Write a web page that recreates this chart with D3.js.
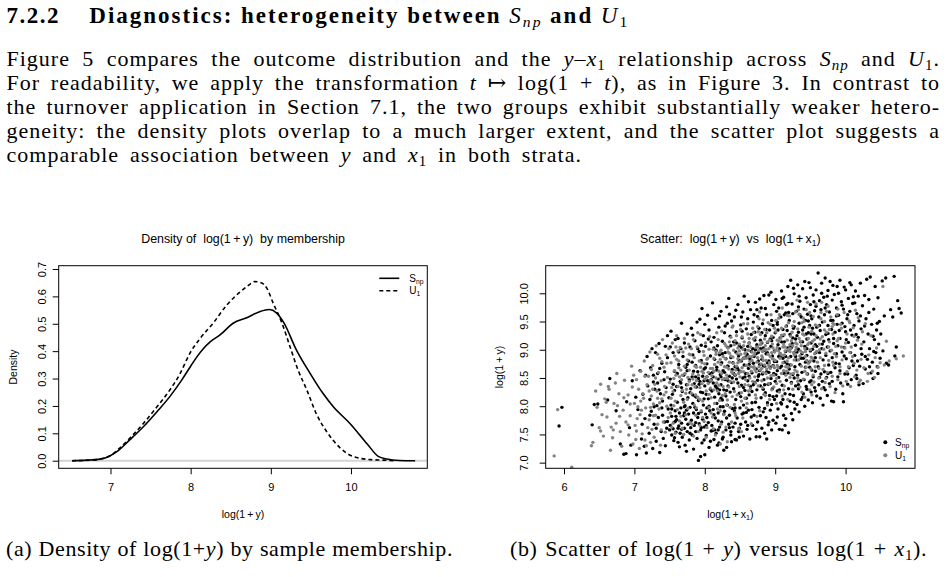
<!DOCTYPE html>
<html>
<head>
<meta charset="utf-8">
<script src="https://d3js.org/d3.v7.min.js"></script>
<style>
  body { margin: 0; background: #fff; }
  svg { display: block; }
  .tex { font-family: "Liberation Serif", "DejaVu Serif", serif; fill: #000; }
  .rr { font-family: "Liberation Sans", Arial, Helvetica, sans-serif; fill: #000; }
</style>
</head>
<body>
<script>
// ---- data ----

// tick labels
var densTicksX = [7, 8, 9, 10];
var densTicksY = [0, 0.1, 0.2, 0.3, 0.4, 0.5, 0.6, 0.7];
var scatTicksX = [6, 7, 8, 9, 10];
var scatTicksY = [7, 7.5, 8, 8.5, 9, 9.5, 10];

// kernel density of log(1+y), S_np (solid)
var snpDensX = [6.52, 6.70, 6.85, 6.95, 7.08, 7.24, 7.41, 7.58, 7.74, 7.89, 8.00, 8.08, 8.16, 8.24, 8.37, 8.53,
                8.70, 8.86, 8.98, 9.07, 9.16, 9.32, 9.49, 9.65, 9.78, 9.99, 10.20, 10.34, 10.45, 10.60, 10.80];
var snpDensY = [0.000, 0.002, 0.005, 0.012, 0.033, 0.076, 0.124, 0.179, 0.234, 0.295, 0.345, 0.380, 0.410, 0.433, 0.460, 0.502,
                0.522, 0.544, 0.552, 0.540, 0.505, 0.404, 0.319, 0.246, 0.197, 0.135, 0.062, 0.016, 0.006, 0.001, 0.000];

// kernel density of log(1+y), U_1 (dashed)
var u1DensX = [6.52, 6.75, 6.90, 6.99, 7.10, 7.24, 7.41, 7.58, 7.74, 7.87, 7.99, 8.12, 8.28, 8.45, 8.62, 8.72,
               8.80, 8.88, 8.95, 9.03, 9.14, 9.24, 9.34, 9.45, 9.57, 9.70, 9.86, 10.03, 10.24, 10.40, 10.55];
var u1DensY = [0.000, 0.002, 0.008, 0.017, 0.042, 0.082, 0.136, 0.197, 0.258, 0.319, 0.392, 0.447, 0.502, 0.568, 0.617, 0.640,
               0.654, 0.650, 0.630, 0.575, 0.502, 0.416, 0.331, 0.258, 0.170, 0.105, 0.048, 0.015, 0.004, 0.002, 0.000];

// scatter, S_np: x, y pairs (log(1+x1), log(1+y))
var snpPts = [
5.93,7.65, 5.97,7.98, 6.40,7.67, 6.43,8.03, 6.48,8.04, 6.65,8.49, 6.80,7.33, 6.85,7.15, 6.88,7.16, 6.74,7.92, 6.62,8.11, 6.89,8.08,
6.93,7.62, 6.97,8.45, 7.03,7.14, 7.05,7.94, 7.08,8.63, 7.10,7.42, 7.12,8.21, 7.15,7.78, 7.17,7.17, 7.18,8.88, 7.19,8.36, 7.11,7.68, 7.02,8.16, 6.95,7.31, 7.16,8.55, 7.14,7.29,
7.21,7.52, 7.22,8.12, 7.23,8.68, 7.24,7.91, 7.25,9.02, 7.26,7.25, 7.27,8.43, 7.28,7.68, 7.29,8.30, 7.30,8.95, 7.31,7.38, 7.32,8.01, 7.33,8.58, 7.34,7.80, 7.35,9.11, 7.36,7.18,
7.37,8.22, 7.38,7.55, 7.39,8.76, 7.40,8.09, 7.41,7.43, 7.42,8.47, 7.43,7.72, 7.44,9.06, 7.45,8.33, 7.46,7.61, 7.47,8.86, 7.48,7.95, 7.49,8.15, 7.44,7.30, 7.36,8.67, 7.28,7.99,
7.47,9.25, 7.40,7.84, 7.33,8.41,
7.50,7.58, 7.51,7.66, 7.51,8.48, 7.52,9.33, 7.53,7.49, 7.53,7.82, 7.54,8.21, 7.55,7.60, 7.55,8.95, 7.56,7.71, 7.57,7.44, 7.57,8.62, 7.58,7.92, 7.58,9.18, 7.59,7.54, 7.60,8.35,
7.60,7.76, 7.61,8.07, 7.62,7.36, 7.62,9.20, 7.63,7.65, 7.63,8.74, 7.64,7.88, 7.65,8.44, 7.65,7.52, 7.66,9.02, 7.66,7.97, 7.67,9.47, 7.67,7.70, 7.68,8.26, 7.68,7.45, 7.69,8.88,
7.70,7.83, 7.70,8.55, 7.71,7.61, 7.71,9.12, 7.72,8.01, 7.72,7.31, 7.73,8.69, 7.73,7.77, 7.74,8.38, 7.74,7.93, 7.75,7.55, 7.75,9.28, 7.76,8.15, 7.76,7.68, 7.77,8.80, 7.77,7.86,
7.78,7.40, 7.78,8.47, 7.79,7.98, 7.79,9.05, 7.52,8.02, 7.56,7.39, 7.61,8.58, 7.64,7.28, 7.69,8.12, 7.74,7.20, 7.58,7.73, 7.67,7.59,
7.80,7.62, 7.80,8.31, 7.81,7.75, 7.81,9.38, 7.82,8.52, 7.82,7.49, 7.83,8.05, 7.83,8.91, 7.84,7.88, 7.84,7.24, 7.85,8.40, 7.85,7.66, 7.86,9.16, 7.86,8.18, 7.87,7.55, 7.87,8.72,
7.88,7.94, 7.88,8.34, 7.89,7.43, 7.89,9.49, 7.90,8.61, 7.90,7.80, 7.91,7.04, 7.91,8.10, 7.92,8.97, 7.92,7.69, 7.93,9.54, 7.93,8.44, 7.94,7.58, 7.94,8.25, 7.95,7.90, 7.95,8.81,
7.96,9.73, 7.96,7.35, 7.97,8.53, 7.97,7.77, 7.98,8.02, 7.98,9.25, 7.99,8.66, 7.99,7.63, 8.00,7.14, 8.00,8.36, 8.01,7.86, 8.01,9.06, 8.02,8.21, 8.02,7.48, 8.03,8.75, 8.03,7.97,
8.04,9.61, 8.04,8.45, 8.05,7.71, 8.05,8.13, 8.06,9.35, 8.06,7.27, 8.07,8.58, 8.07,7.92, 8.08,8.30, 8.08,8.89, 8.09,7.56, 8.09,9.14, 7.84,8.62, 7.88,8.16, 7.92,8.39, 7.97,8.24,
8.03,8.52, 7.86,7.98, 7.94,7.11, 8.00,9.45, 7.82,8.78, 7.90,9.02, 8.06,8.00, 7.99,7.40,
8.10,8.27, 8.10,7.66, 8.11,9.83, 8.11,8.60, 8.12,7.94, 8.12,8.41, 8.13,9.22, 8.13,7.41, 8.14,8.16, 8.14,8.83, 8.15,7.79, 8.15,9.55, 8.16,8.34, 8.16,7.52, 8.17,8.69, 8.17,8.05,
8.18,9.07, 8.18,7.31, 8.19,8.48, 8.19,7.88, 8.20,9.40, 8.20,8.22, 8.21,8.91, 8.21,7.63, 8.22,8.56, 8.22,7.99, 8.23,9.68, 8.23,8.38, 8.24,7.72, 8.24,8.77, 8.25,8.11, 8.25,9.15,
8.26,7.45, 8.26,8.63, 8.27,8.29, 8.27,7.22, 8.28,9.30, 8.28,7.91, 8.29,8.47, 8.29,8.95, 8.30,7.58, 8.30,8.18, 8.31,9.76, 8.31,7.27, 8.32,8.71, 8.32,8.02, 8.33,9.04, 8.33,8.36,
8.34,9.91, 8.34,7.68, 8.35,8.53, 8.35,7.84, 8.36,9.24, 8.36,8.25, 8.37,8.86, 8.37,7.49, 8.38,8.42, 8.38,9.51, 8.39,7.96, 8.39,8.65, 8.12,8.52, 8.18,8.31, 8.23,8.14, 8.28,8.60,
8.33,8.45, 8.14,7.58, 8.21,9.60, 8.26,7.99, 8.35,9.63, 8.20,7.35, 8.30,8.84, 8.16,8.99, 8.38,7.37,
8.40,8.77, 8.40,7.63, 8.41,9.14, 8.41,8.31, 8.42,7.92, 8.42,9.58, 8.43,8.55, 8.43,7.41, 8.44,8.96, 8.44,8.12, 8.45,7.40, 8.45,9.32, 8.46,8.68, 8.46,7.79, 8.47,8.41, 8.47,9.80,
8.48,8.89, 8.48,7.55, 8.49,8.23, 8.49,9.07, 8.50,7.97, 8.50,8.62, 8.51,9.44, 8.51,7.68, 8.52,8.80, 8.52,8.37, 8.53,9.21, 8.53,7.86, 8.54,8.50, 8.54,9.67, 8.55,8.02, 8.55,7.47,
8.56,9.95, 8.56,8.73, 8.57,8.28, 8.57,9.00, 8.58,7.72, 8.58,8.58, 8.59,9.37, 8.59,8.14, 8.60,7.59, 8.60,8.92, 8.61,8.45, 8.61,9.55, 8.62,7.93, 8.62,8.67, 8.63,9.12, 8.63,8.20,
8.64,7.42, 8.64,8.84, 8.65,9.71, 8.65,8.35, 8.66,7.81, 8.66,9.27, 8.67,8.59, 8.67,8.06, 8.68,9.02, 8.68,7.66, 8.69,8.76, 8.69,9.49, 8.45,8.48, 8.52,9.04, 8.58,8.87, 8.63,8.53,
8.43,8.70, 8.55,8.33, 8.66,8.97, 8.49,7.61,
8.70,8.88, 8.70,7.84, 8.71,9.31, 8.71,8.42, 8.72,9.84, 8.72,8.07, 8.73,8.66, 8.73,7.46, 8.74,9.09, 8.74,8.29, 8.75,9.59, 8.75,7.72, 8.76,8.95, 8.76,8.53, 8.77,9.38, 8.77,7.98,
8.78,8.74, 8.78,7.46, 8.79,9.17, 8.79,8.36, 8.80,9.74, 8.80,8.15, 8.81,8.83, 8.81,7.61, 8.82,9.46, 8.82,8.57, 8.83,9.03, 8.83,7.90, 8.84,8.47, 8.84,9.96, 8.85,8.71, 8.85,7.52,
8.86,9.25, 8.86,8.24, 8.87,8.93, 8.87,7.80, 8.88,9.62, 8.88,8.61, 8.89,8.06, 8.89,9.13, 8.90,8.39, 8.90,7.67, 8.91,9.97, 8.91,8.80, 8.92,9.35, 8.92,8.19, 8.93,8.69, 8.93,7.93,
8.94,9.06, 8.94,8.49, 8.95,9.52, 8.95,7.58, 8.96,8.89, 8.96,8.31, 8.97,9.22, 8.97,7.75, 8.98,9.80, 8.98,8.58, 8.99,8.98, 8.99,8.12, 8.72,9.00, 8.76,8.80, 8.81,9.12, 8.85,8.99,
8.89,8.77, 8.93,9.19, 8.78,8.63, 8.97,8.72, 8.74,9.71, 8.83,8.30, 8.88,7.42, 8.95,8.03,
9.00,9.30, 9.00,8.44, 9.01,7.70, 9.01,9.89, 9.02,8.79, 9.02,8.18, 9.03,9.49, 9.03,8.63, 9.04,7.95, 9.04,9.09, 9.05,8.51, 9.05,9.74, 9.06,8.29, 9.06,7.59, 9.07,9.21, 9.07,8.93,
9.08,8.06, 9.08,9.58, 9.09,8.71, 9.09,10.04, 9.10,7.58, 9.10,8.37, 9.11,9.36, 9.11,8.85, 9.12,7.84, 9.12,9.93, 9.13,8.58, 9.13,9.14, 9.14,8.22, 9.14,7.66, 9.15,9.65, 9.15,8.97,
9.16,8.46, 9.16,9.42, 9.17,7.99, 9.17,8.75, 9.18,10.12, 9.18,9.03, 9.19,8.31, 9.19,7.53, 9.20,9.52, 9.20,8.66, 9.21,8.09, 9.21,9.27, 9.22,10.23, 9.22,8.88, 9.23,7.87, 9.23,8.42,
9.24,9.81, 9.24,9.11, 9.25,8.56, 9.25,7.76, 9.26,9.38, 9.26,8.19, 9.27,8.95, 9.27,9.99, 9.28,8.70, 9.28,7.95, 9.29,9.19, 9.29,8.36, 9.04,9.35, 9.08,8.87, 9.13,9.62, 9.18,8.59,
9.22,9.07, 9.27,8.50, 9.06,9.02, 9.11,8.12, 9.16,9.80, 9.20,8.99, 9.25,9.64, 9.03,8.27,
9.30,8.82, 9.30,9.68, 9.31,8.03, 9.31,9.25, 9.32,8.55, 9.32,10.15, 9.33,9.01, 9.33,8.31, 9.34,9.47, 9.34,7.90, 9.35,8.74, 9.35,9.86, 9.36,8.45, 9.36,9.14, 9.37,8.12, 9.37,9.58,
9.38,8.93, 9.38,8.60, 9.39,9.35, 9.39,10.08, 9.40,8.22, 9.40,8.85, 9.41,9.72, 9.41,8.47, 9.42,9.06, 9.42,8.00, 9.43,9.52, 9.43,8.69, 9.44,9.92, 9.44,8.35, 9.45,9.19, 9.45,8.90,
9.46,8.57, 9.46,9.63, 9.47,8.11, 9.47,9.30, 9.48,8.78, 9.48,10.19, 9.49,9.43, 9.49,8.43, 9.50,8.98, 9.50,9.80, 9.51,8.25, 9.51,9.12, 9.52,8.64, 9.52,9.55, 9.53,8.06, 9.53,9.01,
9.54,9.97, 9.54,8.52, 9.55,9.28, 9.55,8.80, 9.56,9.69, 9.56,8.33, 9.57,9.09, 9.57,8.62, 9.58,10.06, 9.58,8.95, 9.59,9.40, 9.59,8.18, 9.33,9.76, 9.44,9.28, 9.51,9.60,
9.60,9.22, 9.61,10.36, 9.61,8.70, 9.62,9.58, 9.62,8.38, 9.63,9.87, 9.63,8.95, 9.64,8.14, 9.64,9.34, 9.65,8.57, 9.65,9.71, 9.66,10.18, 9.66,9.02, 9.67,8.44, 9.67,9.49, 9.68,8.82,
9.68,8.02, 9.69,9.93, 9.69,9.15, 9.70,8.61, 9.70,9.62, 9.71,8.29, 9.71,10.27, 9.72,9.27, 9.72,8.90, 9.73,9.80, 9.73,8.51, 9.74,9.05, 9.74,8.19, 9.75,9.43, 9.75,10.05, 9.76,8.73,
9.76,9.18, 9.77,8.40, 9.77,9.67, 9.78,8.98, 9.78,10.21, 9.79,8.60, 9.80,9.36, 9.80,8.09, 9.81,9.88, 9.81,8.86, 9.82,9.52, 9.83,8.08, 9.83,9.11, 9.84,9.98, 9.85,8.68, 9.85,9.31,
9.86,8.30, 9.87,9.74, 9.87,8.93, 9.88,10.12, 9.88,9.45, 9.89,8.52, 9.89,9.07,
9.90,9.61, 9.91,8.75, 9.92,10.23, 9.92,9.20, 9.93,8.41, 9.94,9.85, 9.95,8.96, 9.95,9.47, 9.96,8.22, 9.97,8.08, 9.97,9.72, 9.98,9.04, 9.99,8.57, 10.00,10.06, 10.00,9.32, 10.01,8.84,
10.02,9.55, 10.03,8.39, 10.04,9.91, 10.04,9.13, 10.05,8.68, 10.06,9.68, 10.07,8.95, 10.08,10.15, 10.08,8.47, 10.09,9.26, 10.10,9.82, 10.11,8.72, 10.12,9.43, 10.13,8.90, 10.14,10.04,
10.14,9.08, 10.15,8.55, 10.16,9.64, 10.17,8.80, 10.18,9.95, 10.18,9.22, 10.19,8.38, 10.19,9.51, 10.01,9.18,
10.20,8.71, 10.21,10.18, 10.22,9.37, 10.23,8.92, 10.24,9.78, 10.25,8.40, 10.26,9.14, 10.27,9.96, 10.28,8.66, 10.29,9.55, 10.30,10.25, 10.31,8.83, 10.32,9.28, 10.33,9.89, 10.34,9.02,
10.35,10.29, 10.36,8.59, 10.37,9.45, 10.38,8.78, 10.39,8.49, 10.40,9.72, 10.41,9.18, 10.42,10.12, 10.43,8.95, 10.44,9.35, 10.45,8.70, 10.46,9.92, 10.47,9.10, 10.48,9.50, 10.49,8.85,
10.50,9.28, 10.52,10.22, 10.53,8.98, 10.55,9.60, 10.57,10.27, 10.58,8.76, 10.61,8.73, 10.64,9.71, 10.67,9.58, 10.69,10.30, 10.70,8.89, 10.72,9.05, 10.74,9.87, 10.76,9.73, 10.79,9.65,
7.53,7.95, 7.57,8.28, 7.62,7.61, 7.66,8.41, 7.71,7.88, 7.75,8.63, 7.79,7.52, 7.83,8.20, 7.87,7.71, 7.91,8.49, 7.95,7.62, 7.99,8.13, 8.03,7.80, 8.07,8.44, 8.11,7.57, 8.15,8.36,
8.19,7.74, 8.23,8.52, 8.27,7.86, 8.31,8.28, 8.35,7.62, 8.39,8.50, 8.43,7.97, 8.47,8.65, 8.51,8.17, 8.55,8.85, 8.59,7.89, 8.63,8.74, 8.67,8.26, 8.71,9.17, 8.75,8.46, 8.79,9.02,
8.83,8.72, 8.87,9.36, 8.91,8.60, 8.95,9.16, 8.99,8.79, 9.03,9.45, 9.07,8.68, 9.11,9.25, 9.15,8.88, 9.19,9.66, 9.23,9.04, 9.27,9.41, 9.31,8.96, 9.35,9.62, 9.39,9.14, 9.43,8.78,
9.47,9.51, 9.51,9.28, 9.55,9.85, 9.59,9.06, 9.63,9.43, 9.67,9.10, 9.71,9.74, 9.75,9.29, 9.79,9.52, 9.83,9.20, 9.87,9.60, 9.91,9.34, 9.95,9.79, 9.99,9.41, 10.03,9.62, 10.07,9.35,
10.11,9.94, 10.15,9.27, 10.21,9.60, 10.27,9.42, 10.33,9.66, 10.39,9.24, 10.45,9.47,
8.02,7.66, 8.08,7.38, 8.13,7.85, 8.19,7.58, 8.25,7.42, 8.31,7.79, 8.37,7.55, 8.43,7.70, 8.49,7.45, 8.55,7.88, 8.61,7.66, 8.67,7.94, 8.73,7.59, 8.79,7.83, 8.85,7.96, 8.91,7.72,
8.97,8.17, 9.03,7.81, 9.09,8.04, 9.15,7.78, 9.21,8.21, 9.27,8.07, 9.33,8.38, 9.39,8.16, 9.45,8.30, 9.51,8.45, 9.57,8.27, 9.63,8.51, 9.69,8.33, 9.75,8.58,
8.01,8.68, 8.05,9.19, 8.09,8.47, 8.13,9.03, 8.17,8.64, 8.21,8.29, 8.25,8.93, 8.29,9.42, 8.33,8.71, 8.37,9.07, 8.41,8.58, 8.45,9.12, 8.49,8.81, 8.53,9.33, 8.57,8.52, 8.61,9.06,
8.65,8.81, 8.69,8.38, 8.73,8.93, 8.77,8.56, 8.81,9.30, 8.85,8.38, 8.89,8.95, 8.93,8.40, 8.97,9.43, 9.01,8.56, 9.05,8.88, 9.09,9.14, 9.13,8.78, 9.17,9.34, 9.21,8.73, 9.25,9.21,
9.29,8.88, 9.33,9.31, 9.37,8.85, 9.41,9.40, 9.45,9.02, 9.49,8.69, 9.53,9.38, 9.57,8.86,
7.22,7.84, 7.27,8.55, 7.31,7.61, 7.35,8.29, 7.39,7.97, 7.43,8.61, 7.47,7.73, 7.51,9.05, 7.55,8.39, 7.59,7.82, 7.63,8.96, 7.67,8.33, 7.71,7.99, 7.75,8.74, 7.79,8.24, 7.83,9.26,
7.87,8.52, 7.91,7.87, 7.95,9.08, 7.99,8.45,
8.32,9.47, 8.44,9.70, 8.52,9.58, 8.62,9.85, 8.70,9.62, 8.78,9.90, 8.86,9.73, 8.94,10.02, 9.02,9.68, 9.10,9.91, 9.18,9.82, 9.26,10.09, 9.34,9.95, 9.42,10.21, 9.50,10.10, 9.58,9.77,
9.66,10.00, 9.74,9.95, 9.82,10.14, 9.90,10.00, 9.98,10.11, 10.06,10.19, 10.13,9.83,
9.81,8.44, 9.86,8.76, 9.92,8.63, 9.98,8.89, 10.03,8.57, 10.09,8.80, 10.16,8.49, 10.22,9.02, 10.28,8.88, 10.34,8.70, 10.40,8.97, 10.46,8.58
];

// scatter, U_1: x, y pairs
var u1Pts = [
5.86,7.12, 5.91,7.94, 6.11,6.92,
6.39,7.30, 6.41,7.36, 6.45,8.27, 6.47,7.98, 6.50,7.62, 6.52,8.39, 6.52,7.56, 6.56,7.47, 6.58,8.13, 6.61,7.81, 6.64,8.30, 6.66,7.22, 6.69,7.44, 6.71,8.05, 6.74,7.70, 6.75,8.58,
6.78,8.22, 6.80,7.55, 6.82,7.29, 6.84,7.93, 6.86,8.46, 6.88,7.72, 6.63,8.35, 6.70,7.58,
6.91,8.20, 6.92,7.49, 6.94,7.83, 6.96,8.71, 6.98,7.33, 7.00,8.05, 7.01,7.66, 7.03,8.47, 7.04,7.78, 7.06,8.30, 7.07,7.25, 7.09,8.62, 7.10,7.93, 7.11,7.51, 7.13,8.14, 7.14,8.80,
7.15,7.40, 7.16,7.97, 7.18,8.38, 7.19,7.62, 6.99,8.55, 7.05,7.99, 7.12,8.22, 7.17,7.30, 7.02,7.41,
7.20,8.53, 7.21,7.76, 7.22,8.96, 7.23,7.36, 7.24,8.18, 7.25,7.59, 7.26,8.72, 7.27,8.04, 7.28,7.45, 7.29,8.39, 7.30,7.84, 7.31,9.07, 7.32,8.27, 7.33,7.68, 7.34,8.60, 7.35,7.95,
7.36,8.85, 7.37,7.31, 7.38,8.45, 7.39,8.13, 7.40,9.18, 7.41,7.72, 7.42,8.69, 7.43,8.35, 7.44,7.54, 7.45,8.91, 7.46,8.00, 7.47,8.51, 7.48,7.80, 7.49,9.02, 7.26,8.30, 7.33,8.92,
7.38,7.58, 7.42,8.20, 7.46,8.76, 7.30,8.50, 7.23,7.98, 7.36,8.06,
7.50,8.42, 7.51,7.88, 7.52,8.77, 7.53,7.63, 7.54,9.12, 7.55,8.26, 7.56,8.01, 7.57,8.89, 7.58,7.52, 7.59,8.55, 7.60,9.25, 7.61,7.94, 7.62,8.35, 7.63,8.68, 7.64,7.74, 7.65,9.04,
7.66,8.19, 7.67,8.47, 7.68,7.61, 7.69,8.96, 7.70,8.07, 7.71,9.20, 7.72,8.58, 7.73,7.85, 7.74,8.30, 7.75,8.82, 7.76,7.96, 7.77,9.10, 7.78,8.44, 7.79,7.71, 7.52,8.14, 7.57,8.63,
7.62,8.98, 7.66,7.82, 7.71,8.71, 7.75,8.12, 7.55,7.70, 7.60,8.83, 7.68,8.28, 7.73,9.03, 7.78,8.64, 7.64,8.52, 7.70,7.50, 7.59,9.05, 7.76,8.38,
7.80,8.91, 7.81,8.23, 7.82,7.68, 7.83,8.57, 7.84,9.18, 7.85,8.02, 7.86,8.71, 7.87,7.84, 7.88,8.45, 7.89,9.05, 7.90,8.16, 7.91,7.55, 7.92,8.80, 7.93,8.33, 7.94,9.27, 7.95,7.92,
7.96,8.62, 7.97,8.09, 7.98,8.97, 7.99,7.73, 8.00,8.48, 8.01,9.12, 8.02,8.27, 8.03,7.62, 8.04,8.85, 8.05,8.40, 8.06,7.98, 8.07,9.23, 8.08,8.67, 8.09,8.15, 7.82,8.38, 7.85,8.86,
7.88,7.97, 7.91,8.55, 7.94,8.69, 7.97,7.80, 8.00,8.75, 8.03,8.52, 8.06,9.01, 8.09,7.88, 7.84,7.47, 7.90,9.30, 7.96,8.40, 8.02,7.45, 8.05,8.60, 7.87,8.20, 7.93,7.66, 7.99,8.90,
8.08,8.32, 7.81,9.02,
8.10,8.54, 8.11,7.81, 8.12,9.01, 8.13,8.29, 8.14,8.74, 8.15,7.49, 8.16,8.92, 8.17,8.41, 8.18,7.95, 8.19,9.18, 8.20,8.62, 8.21,8.10, 8.22,8.83, 8.23,7.68, 8.24,9.33, 8.25,8.47,
8.26,8.88, 8.27,7.85, 8.28,8.70, 8.29,8.22, 8.30,9.07, 8.31,8.55, 8.32,7.37, 8.33,8.96, 8.34,8.34, 8.35,8.78, 8.36,7.98, 8.37,9.22, 8.38,8.61, 8.39,8.17, 8.11,8.67, 8.14,8.05,
8.17,9.30, 8.20,8.37, 8.23,8.99, 8.26,7.54, 8.29,8.84, 8.32,8.49, 8.35,9.14, 8.38,7.72, 8.12,7.60, 8.16,8.50, 8.19,8.78, 8.22,7.33, 8.25,8.19, 8.28,9.11, 8.31,8.02, 8.34,8.66,
8.37,8.89, 8.39,9.40, 8.13,8.85, 8.24,8.58, 8.30,7.63, 8.36,8.44, 8.21,8.95,
8.40,8.87, 8.41,8.43, 8.42,9.09, 8.43,7.88, 8.44,8.64, 8.45,9.25, 8.46,8.20, 8.47,8.77, 8.48,7.60, 8.49,8.98, 8.50,8.52, 8.51,9.36, 8.52,8.09, 8.53,8.83, 8.54,7.79, 8.55,8.61,
8.56,9.14, 8.57,8.38, 8.58,8.95, 8.59,7.97, 8.60,8.72, 8.61,9.28, 8.62,8.27, 8.63,8.88, 8.64,8.50, 8.65,9.05, 8.66,7.69, 8.67,8.81, 8.68,8.44, 8.69,9.19, 8.41,8.99, 8.43,8.56,
8.45,8.71, 8.47,9.03, 8.49,8.35, 8.51,8.92, 8.53,8.68, 8.55,9.46, 8.57,8.14, 8.59,8.85, 8.61,8.58, 8.63,9.11, 8.65,8.31, 8.67,8.96, 8.69,8.69, 8.42,8.26, 8.46,8.93, 8.50,8.79,
8.54,9.01, 8.58,8.47, 8.62,8.99, 8.66,8.62, 8.44,7.83, 8.52,7.55, 8.60,8.05, 8.68,9.38, 8.48,8.58, 8.56,8.86, 8.64,8.79, 8.40,9.42,
8.70,8.91, 8.71,8.52, 8.72,9.22, 8.73,8.14, 8.74,8.78, 8.75,9.41, 8.76,8.36, 8.77,8.99, 8.78,7.92, 8.79,8.64, 8.80,9.13, 8.81,8.45, 8.82,8.86, 8.83,9.53, 8.84,8.21, 8.85,8.73,
8.86,9.07, 8.87,8.58, 8.88,9.30, 8.89,8.02, 8.90,8.92, 8.91,8.40, 8.92,9.17, 8.93,8.67, 8.94,9.62, 8.95,8.29, 8.96,8.84, 8.97,9.03, 8.98,8.55, 8.99,9.38, 8.71,8.95, 8.73,8.61,
8.75,9.05, 8.77,8.70, 8.79,9.27, 8.81,8.89, 8.83,8.60, 8.85,9.19, 8.87,8.81, 8.89,8.50, 8.91,9.02, 8.93,8.88, 8.95,9.24, 8.97,8.71, 8.99,8.96, 8.72,8.41, 8.76,9.32, 8.80,8.75,
8.84,9.00, 8.88,8.66, 8.92,8.77, 8.96,9.10, 8.74,7.82, 8.86,8.19, 8.98,8.34, 8.78,9.67, 8.90,9.48, 8.82,8.97, 8.94,8.54, 8.70,8.70,
9.00,8.81, 9.01,9.32, 9.02,8.49, 9.03,9.04, 9.04,8.68, 9.05,9.56, 9.06,8.25, 9.07,8.93, 9.08,9.21, 9.09,8.58, 9.10,9.74, 9.11,8.77, 9.12,9.10, 9.13,8.36, 9.14,8.98, 9.15,9.41,
9.16,8.62, 9.17,9.17, 9.18,8.12, 9.19,8.86, 9.20,9.60, 9.21,8.51, 9.22,9.02, 9.23,8.73, 9.24,9.31, 9.25,8.30, 9.26,8.95, 9.27,9.50, 9.28,8.64, 9.29,9.12, 9.01,8.99, 9.03,8.72,
9.05,9.15, 9.07,8.44, 9.09,9.38, 9.11,8.90, 9.13,9.27, 9.15,8.55, 9.17,8.80, 9.19,9.48, 9.21,8.97, 9.23,8.40, 9.25,9.07, 9.27,8.82, 9.29,9.67, 9.02,8.05, 9.06,9.62, 9.10,8.18,
9.14,9.05, 9.18,8.69, 9.22,9.24, 9.26,8.58, 9.12,8.63, 9.20,9.01, 9.28,8.92,
9.30,9.04, 9.31,8.61, 9.32,9.37, 9.33,8.82, 9.34,9.63, 9.35,8.34, 9.36,9.15, 9.37,8.71, 9.38,9.48, 9.39,8.95, 9.40,8.48, 9.41,9.26, 9.42,8.16, 9.43,8.88, 9.44,9.71, 9.45,8.57,
9.46,9.09, 9.47,8.76, 9.48,9.40, 9.49,8.29, 9.50,9.00, 9.51,8.66, 9.52,9.33, 9.53,8.85, 9.54,9.59, 9.55,8.43, 9.56,9.18, 9.57,8.70, 9.58,9.81, 9.59,8.97, 9.32,8.50, 9.36,8.98,
9.40,9.56, 9.44,8.69, 9.48,9.12, 9.52,8.38, 9.56,8.93, 9.34,9.20, 9.42,9.02, 9.50,8.80, 9.58,9.25, 9.38,8.25, 9.46,9.84, 9.54,8.55, 9.31,9.88,
9.60,8.78, 9.61,9.42, 9.62,8.50, 9.63,9.10, 9.64,8.86, 9.65,9.66, 9.66,8.31, 9.67,9.23, 9.68,8.65, 9.69,9.01, 9.70,9.50, 9.71,8.42, 9.72,8.94, 9.73,9.31, 9.74,8.60, 9.75,9.77,
9.76,8.81, 9.77,9.14, 9.78,8.35, 9.79,9.58, 9.80,8.99, 9.81,8.53, 9.82,9.28, 9.83,8.72, 9.84,9.45, 9.85,8.24, 9.86,9.06, 9.87,8.88, 9.88,9.62, 9.89,8.47, 9.63,9.00, 9.70,8.72,
9.77,9.36, 9.84,8.93, 9.66,9.84,
9.90,9.20, 9.92,8.58, 9.93,9.45, 9.95,8.82, 9.96,8.36, 9.98,9.66, 9.99,9.03, 10.01,8.44, 10.02,9.28, 10.04,8.70, 10.05,9.51, 10.07,8.35, 10.08,9.05, 10.10,8.88, 10.11,9.39,
10.13,8.52, 10.14,9.70, 10.16,8.64, 10.17,9.17, 10.19,8.42, 9.94,9.05, 10.06,8.95,
10.21,8.46, 10.23,9.10, 10.26,8.68, 10.28,9.46, 10.31,8.44, 10.33,8.91, 10.36,9.25, 10.38,8.62, 10.41,8.51, 10.44,9.03, 10.46,8.69, 10.49,8.77,
10.53,10.12, 10.55,8.73, 10.58,9.15, 10.62,8.80, 10.72,8.84, 10.82,8.89,
8.31,8.69, 8.35,8.94, 8.39,8.59, 8.43,9.16, 8.47,8.84, 8.51,8.61, 8.55,9.07, 8.59,8.72, 8.63,9.20, 8.67,8.88, 8.71,8.65, 8.75,8.86, 8.79,9.09, 8.83,8.81, 8.87,9.00, 8.91,8.72,
8.95,8.95, 8.99,8.68, 9.03,9.17, 9.07,8.85, 9.11,9.05, 9.15,8.70, 9.19,9.01, 9.23,9.16, 9.27,8.91, 9.31,9.10, 9.35,8.89, 9.39,9.28, 9.43,8.97, 9.47,9.20, 9.51,8.87, 9.55,9.06,
8.33,9.03, 8.41,8.76, 8.49,9.10, 8.57,8.93, 8.65,8.70, 8.73,9.04, 8.81,8.67, 8.89,9.14, 8.97,8.84, 9.05,8.98, 9.13,8.91, 9.21,9.09, 9.29,8.99, 9.37,9.07, 9.45,8.81, 9.53,9.15,
7.53,8.33, 7.58,8.09, 7.63,8.80, 7.68,8.55, 7.73,8.23, 7.78,8.92, 7.83,8.48, 7.88,8.69, 7.93,8.12, 7.98,8.59, 8.03,8.83, 8.08,8.46, 8.13,8.62, 8.18,8.27, 8.23,8.74, 8.28,8.49,
7.56,8.49, 7.66,8.64, 7.76,8.51, 7.86,8.34, 7.96,8.77, 8.06,8.21, 8.16,8.97, 8.26,8.35,
6.54,7.85, 6.60,8.07, 6.67,7.63, 6.73,8.41, 6.79,7.82, 6.85,8.15, 6.91,7.67, 6.97,8.34, 7.03,7.56, 7.09,8.09, 7.15,8.53, 7.21,8.27, 7.27,7.83, 7.33,8.14, 7.39,8.79, 7.45,8.25,
6.76,8.01, 6.94,8.04, 7.08,7.85, 7.24,8.65,
8.53,9.23, 8.61,9.46, 8.69,9.30, 8.77,9.55, 8.85,9.36, 8.93,9.45, 9.01,9.52, 9.09,9.26, 9.17,9.61, 9.25,9.42, 9.33,9.71, 9.41,9.50, 9.49,9.66, 9.57,9.44, 9.65,9.55, 9.73,9.68,
9.81,9.41, 9.89,9.72,
8.22,7.92, 8.32,8.11, 8.42,8.03, 8.52,8.24, 8.62,8.37, 8.72,8.20, 8.82,8.33, 8.92,8.12, 9.02,8.40, 9.12,8.29, 9.22,8.57, 9.32,8.44, 9.42,8.62, 9.52,8.20, 9.62,8.67, 9.72,8.49,
9.82,8.78, 9.92,8.70, 10.02,8.61, 10.12,8.76, 10.22,8.83, 10.32,8.58, 10.42,8.86,
9.64,9.19, 9.70,9.35, 9.76,9.05, 9.82,9.47, 9.88,9.16, 9.94,9.38, 10.00,9.12, 10.06,9.48, 10.12,9.24, 10.18,9.57, 10.24,9.32
];

// ---- page ----
var W = 947, H = 577;
var svg = d3.select("body").append("svg")
    .attr("width", W)
    .attr("height", H);

// writes a line of text made of [string, flags] pieces
// flags: "i" italic, "b" bold, "s" subscript
function richText(parent, x, y, segs, size, cls) {
  var t = parent.append("text")
      .attr("class", cls)
      .attr("x", x)
      .attr("y", y)
      .style("font-size", size + "px")
      .style("white-space", "pre");
  var shift = 0;
  segs.forEach(function(s) {
    var f = s[1] || "";
    var sp = t.append("tspan").text(s[0]);
    var want = f.indexOf("s") >= 0 ? size * 0.2 : 0;
    if (want !== shift) { sp.attr("dy", want - shift); shift = want; }
    if (f.indexOf("s") >= 0) sp.style("font-size", (size * 0.68) + "px");
    if (f.indexOf("i") >= 0) sp.style("font-style", "italic");
    if (f.indexOf("b") >= 0) sp.style("font-weight", "bold");
  });
  return t;
}

// stretch the word gaps so the line ends at the given width
function justify(t, width) {
  var natural = t.node().getComputedTextLength();
  var spaces = (t.text().match(/ /g) || []).length;
  if (spaces > 0) t.style("word-spacing", ((width - natural) / spaces) + "px");
}

var bodySize = 22, spacing = "1px", left = 6.5, right = 940;
var doc = svg.append("g");

// heading
richText(doc, left, 22.7, [["7.2.2", "b"]], 23, "tex").style("letter-spacing", "1.5px");
var head = richText(doc, 89.3, 22.7, [
  ["Diagnostics: heterogeneity between ", "b"], ["S", "i"], ["np", "is"], [" and ", "b"], ["U", "i"], ["1", "s"]
], 23, "tex").style("letter-spacing", "2px");
justify(head, 540);

// paragraph, one entry per printed line
var paraLines = [
  [["Figure 5 compares the outcome distribution and the "], ["y", "i"], ["\u2013"], ["x", "i"], ["1", "s"],
   [" relationship across "], ["S", "i"], ["np", "is"], [" and "], ["U", "i"], ["1", "s"], ["."]],
  [["For readability, we apply the transformation "], ["t", "i"], [" \u21A6 log(1 + "], ["t", "i"],
   ["), as in Figure 3. In contrast to"]],
  [["the turnover application in Section 7.1, the two groups exhibit substantially weaker hetero-"]],
  [["geneity: the density plots overlap to a much larger extent, and the scatter plot suggests a"]],
  [["comparable association between "], ["y", "i"], [" and "], ["x", "i"], ["1", "s"], [" in both strata."]]
];
var paraEnds = [right, right, right, right, 582];
paraLines.forEach(function(segs, i) {
  var t = richText(doc, left, 65.7 + i * 24, segs, bodySize, "tex")
      .style("letter-spacing", spacing);
  justify(t, paraEnds[i] - left);
});

// captions
var capA = richText(doc, 6, 556, [["(a) Density of log(1+"], ["y", "i"], [") by sample membership."]], bodySize, "tex")
    .style("letter-spacing", "0.6px");
justify(capA, 447);
var capB = richText(doc, 510, 556, [["(b) Scatter of log(1 + "], ["y", "i"], [") versus log(1 + "], ["x", "i"], ["1", "s"], [")."]], bodySize, "tex")
    .style("letter-spacing", "0.6px");
justify(capB, 417);

// ---- the two R panels ----
var densPanel = {
  left: 58.7, right: 427.3, top: 265.7, bottom: 468.3,
  xDom: [6.354, 10.952], yDom: [-0.0277, 0.712],
  xt: densTicksX, yt: densTicksY, xf: d3.format("d"), yf: d3.format(".1f"),
  yLab: -13.05
};
var scatPanel = {
  left: 545.7, right: 915, top: 265.7, bottom: 468.3,
  xDom: [5.74, 10.986], yDom: [6.90, 10.489],
  xt: scatTicksX, yt: scatTicksY, xf: d3.format("d"), yf: d3.format(".1f"),
  yLab: -17.5
};

[densPanel, scatPanel].forEach(function(p) {
  p.x = d3.scaleLinear().domain(p.xDom).range([p.left, p.right]);
  p.y = d3.scaleLinear().domain(p.yDom).range([p.bottom, p.top]);
  p.cx = (p.left + p.right) / 2;
  p.cy = (p.top + p.bottom) / 2;
});

function drawFrame(p) {
  var g = svg.append("g");
  var ax = g.append("g")
      .attr("transform", "translate(0," + p.bottom + ")")
      .call(d3.axisBottom(p.x).tickValues(p.xt).tickFormat(p.xf).tickSize(6).tickPadding(9.3));
  var ay = g.append("g")
      .attr("transform", "translate(" + p.left + ",0)")
      .call(d3.axisLeft(p.y).tickValues(p.yt).tickFormat(p.yf).tickSize(6));
  [ax, ay].forEach(function(a) {
    a.select(".domain").remove();
    a.attr("font-family", null).attr("font-size", null);
    a.selectAll("line").attr("stroke", "#000");
    a.selectAll("text").attr("class", "rr").style("font-size", "11px");
  });
  // R draws y labels parallel to the axis
  ay.selectAll("text")
      .attr("x", 0).attr("dy", null)
      .attr("text-anchor", "middle")
      .attr("transform", "translate(" + p.yLab + ",0) rotate(-90)");
  g.append("rect")
      .attr("x", p.left).attr("y", p.top)
      .attr("width", p.right - p.left).attr("height", p.bottom - p.top)
      .attr("fill", "none").attr("stroke", "#000").attr("stroke-width", 1);
  return g;
}

function axisTitle(parent, x, y, segs, rotate, size) {
  var t = richText(parent, 0, 0, segs, size || 10.5, "rr")
      .attr("text-anchor", "middle")
      .attr("transform", "translate(" + x + "," + y + ")" + (rotate ? " rotate(-90)" : ""));
  return t;
}

var TS = "\u2009";   // plotmath style spacing round the plus sign

// density panel
var dp = densPanel;
var dg = svg.append("g");
dg.append("line")
    .attr("x1", dp.left).attr("x2", dp.right)
    .attr("y1", dp.y(0)).attr("y2", dp.y(0))
    .attr("stroke", "#d3d3d3").attr("stroke-width", 2);

var densLine = d3.line()
    .x(function(d) { return dp.x(d[0]); })
    .y(function(d) { return dp.y(d[1]); })
    .curve(d3.curveMonotoneX);

dg.append("path")
    .datum(d3.zip(snpDensX, snpDensY))
    .attr("d", densLine)
    .attr("fill", "none").attr("stroke", "#000").attr("stroke-width", 1.6);
dg.append("path")
    .datum(d3.zip(u1DensX, u1DensY))
    .attr("d", densLine)
    .attr("fill", "none").attr("stroke", "#000").attr("stroke-width", 1.6)
    .attr("stroke-dasharray", "4,3");

drawFrame(dp);
axisTitle(dg, dp.cx, 243.4, [["Density of  log(1" + TS + "+" + TS + "y)  by membership"]], false, 12.4);
axisTitle(dg, dp.cx, 518.2, [["log(1" + TS + "+" + TS + "y)"]], false);
axisTitle(dg, 17.1, dp.cy, [["Density"]], true);

// legend (no box)
var legDens = [["np", null], ["1", "4,3"]];
legDens.forEach(function(l, i) {
  var ly = 278.3 + i * 12.4;
  dg.append("line")
      .attr("x1", 379.3).attr("x2", 399.3).attr("y1", ly).attr("y2", ly)
      .attr("stroke", "#000").attr("stroke-width", 1.6)
      .attr("stroke-dasharray", l[1]);
  richText(dg, 409.3, ly + 3.6, [[i === 0 ? "S" : "U"], [l[0], "s"]], 10, "rr");
});

// scatter panel
var sp = scatPanel;
var sg = svg.append("g");
function pairs(flat) {
  return d3.range(0, flat.length, 2).map(function(i) { return [flat[i], flat[i + 1]]; });
}
var series = [
  {pts: pairs(snpPts), color: "#000", name: "np", label: "S"},
  {pts: pairs(u1Pts), color: "#828282", name: "1", label: "U"}
];
series.forEach(function(s) {
  sg.append("g").selectAll("circle")
    .data(s.pts)
    .enter().append("circle")
      .attr("cx", function(d) { return sp.x(d[0]); })
      .attr("cy", function(d) { return sp.y(d[1]); })
      .attr("r", 1.7)
      .attr("fill", s.color);
});

drawFrame(sp);
axisTitle(sg, sp.cx, 243.4, [["Scatter:  log(1" + TS + "+" + TS + "y)  vs  log(1" + TS + "+" + TS + "x"], ["1", "s"], [")"]], false, 12.4);
axisTitle(sg, sp.cx, 518.2, [["log(1" + TS + "+" + TS + "x"], ["1", "s"], [")"]], false);
axisTitle(sg, 502.8, sp.cy, [["log(1" + TS + "+" + TS + "y)"]], true);

series.forEach(function(s, i) {
  var ly = 442.3 + i * 13;
  sg.append("circle").attr("cx", 885.3).attr("cy", ly).attr("r", 2).attr("fill", s.color);
  richText(sg, 895, ly + 3.6, [[s.label], [s.name, "s"]], 10, "rr");
});
</script>
</body>
</html>
